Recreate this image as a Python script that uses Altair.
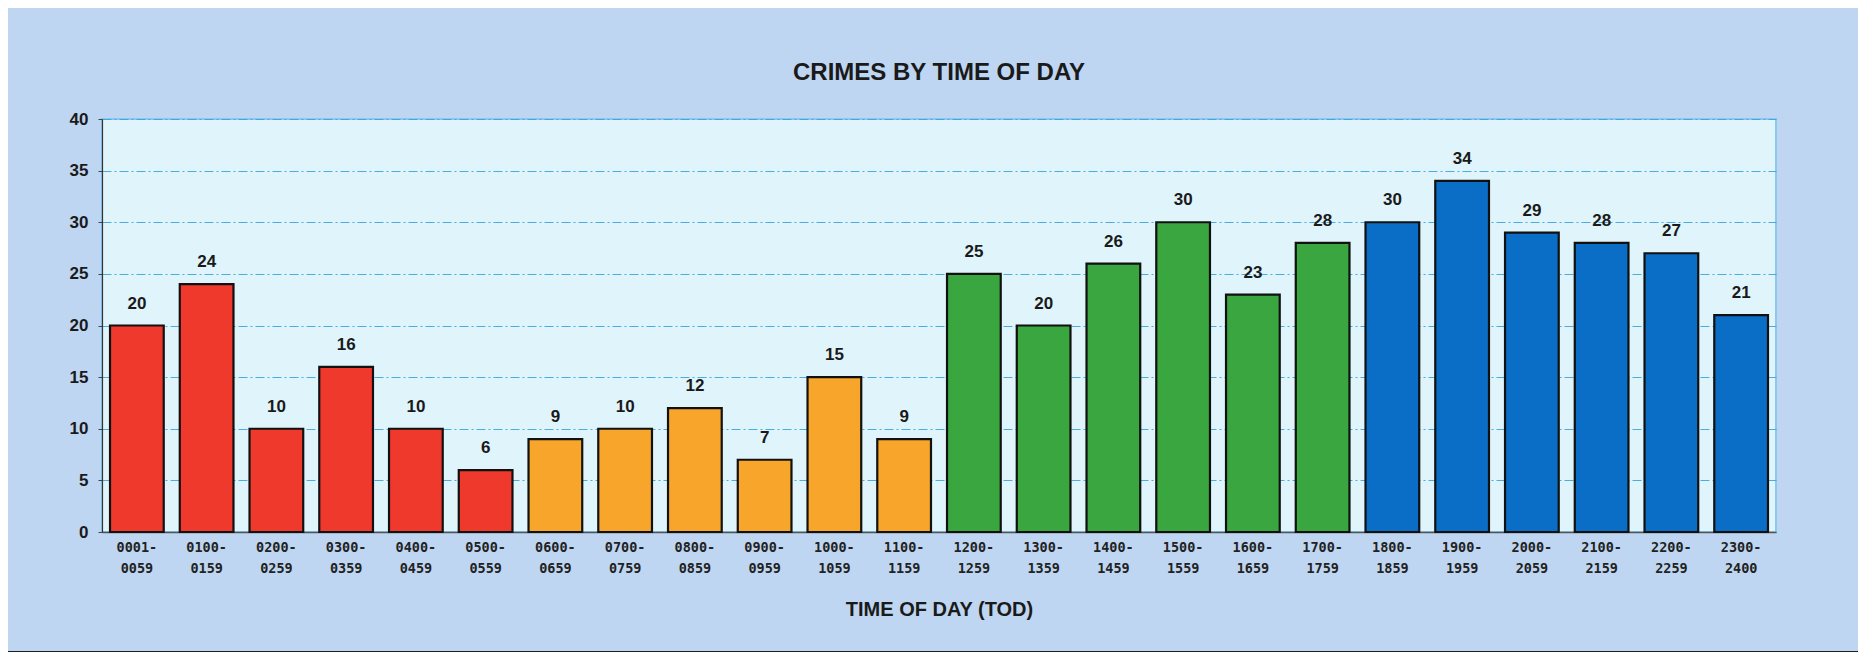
import altair as alt
import pandas as pd

times = ["0001-0059", "0100-0159", "0200-0259", "0300-0359", "0400-0459", "0500-0559",
         "0600-0659", "0700-0759", "0800-0859", "0900-0959", "1000-1059", "1100-1159",
         "1200-1259", "1300-1359", "1400-1459", "1500-1559", "1600-1659", "1700-1759",
         "1800-1859", "1900-1959", "2000-2059", "2100-2159", "2200-2259", "2300-2400"]
crimes = [20, 24, 10, 16, 10, 6, 9, 10, 12, 7, 15, 9,
          25, 20, 26, 30, 23, 28, 30, 34, 29, 28, 27, 21]
groups = (["night"] * 6 + ["morning"] * 6 + ["afternoon"] * 6 + ["evening"] * 6)
group_names = ["night", "morning", "afternoon", "evening"]
group_colors = ["#f0392d", "#f8a62b", "#3aa640", "#0a6dc6"]

df = pd.DataFrame({"tod": times, "crimes": crimes, "group": groups})

W, H = 1674, 413

x = alt.X("tod:N", sort=times, title="TIME OF DAY (TOD)",
          scale=alt.Scale(paddingInner=0.23, paddingOuter=0.115),
          axis=alt.Axis(labelAngle=0,
                        labelExpr="[slice(datum.label,0,5), slice(datum.label,5)]",
                        labelFont="DejaVu Sans Mono", labelFontSize=13.5,
                        labelFontWeight="bold", labelColor="#222222",
                        labelLineHeight=21, labelPadding=8, ticks=False,
                        domainColor="#555555", domainWidth=1.5,
                        titleFont="Liberation Sans", titleFontSize=20,
                        titleFontWeight="bold", titleColor="#1a1a1a",
                        titleY=83, titleBaseline="alphabetic"))
y = alt.Y("crimes:Q", title=None,
          scale=alt.Scale(domain=[0, 40]),
          axis=alt.Axis(values=[0, 5, 10, 15, 20, 25, 30, 35, 40],
                        labelFont="Liberation Sans", labelFontSize=17,
                        labelFontWeight="bold", labelColor="#1a1a1a",
                        labelPadding=10, tickSize=4, tickColor="#444444",
                        domainColor="#333333", domainWidth=1.2,
                        grid=True, gridColor="#3aa4dc", gridDash=[9, 3, 2, 3],
                        gridWidth=1, gridOpacity=0.9))

bars = alt.Chart(df).mark_bar(stroke="#111111", strokeWidth=2.2).encode(
    x=x, y=y,
    color=alt.Color("group:N", scale=alt.Scale(domain=group_names, range=group_colors),
                    legend=None))

text = alt.Chart(df).mark_text(font="Liberation Sans", fontSize=17, fontWeight="bold",
                               color="#1a1a1a", baseline="bottom", dy=-13).encode(
    x=alt.X("tod:N", sort=times), y=alt.Y("crimes:Q"), text="crimes:Q")

bottom_line = alt.Chart(df).mark_rule(color="#1e1e1e", strokeWidth=4).encode(
    x=alt.value(-94), x2=alt.value(W + 82), y=alt.value(534))

chart = alt.layer(bars, text, bottom_line).properties(
    width=W, height=H,
    padding={"left": 94, "top": 111, "right": 82, "bottom": 120},
    autosize=alt.AutoSizeParams(type="none"),
    background="#bed6f1",
    title=alt.TitleParams("CRIMES BY TIME OF DAY", font="Liberation Sans", fontSize=24,
                          fontWeight="bold", color="#1a1a1a", anchor="middle", offset=25),
).configure_view(fill="#e0f5fb", stroke="#8cc8ee", strokeWidth=2)

chart.save("out.html", embed_options={"renderer": "svg", "actions": False})
